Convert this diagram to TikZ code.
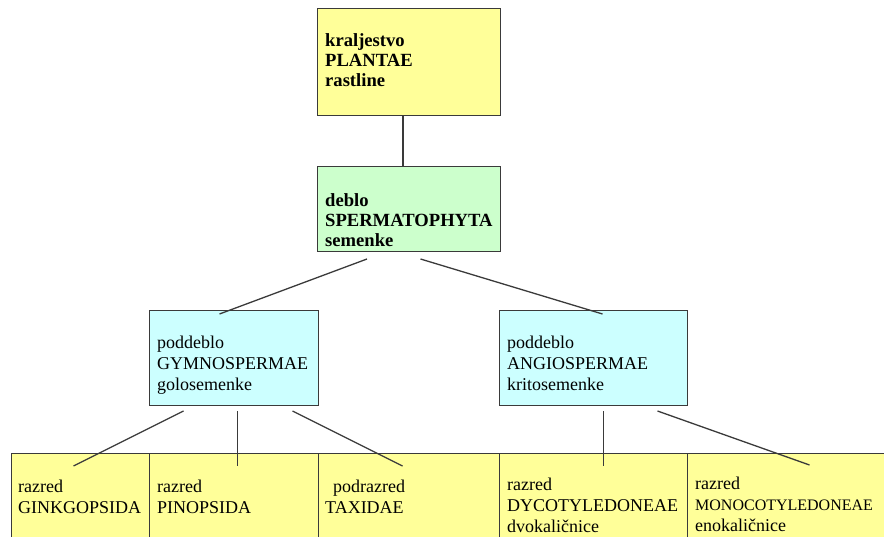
\documentclass[tikz,border=0pt]{standalone}
\usepackage{fontspec}
\setmainfont{Liberation Serif}
\usetikzlibrary{positioning}

\definecolor{boxyellow}{HTML}{FFFF99}
\definecolor{boxgreen}{HTML}{CCFFCC}
\definecolor{boxcyan}{HTML}{CCFFFF}
\definecolor{edgegray}{HTML}{3A3A3A}

\tikzset{
  taxon/.style={draw=edgegray, line width=1pt, anchor=north west, inner sep=0pt},
  names/.style={anchor=base west, align=left, inner sep=0pt,
    font=\fontsize{18}{21}\selectfont},
  boldnames/.style={names, font=\fontsize{18.6}{20.3}\selectfont\bfseries},
  link/.style={draw=edgegray, line width=1.3pt}
}

\begin{document}
\begin{tikzpicture}[x=1pt,y=-1pt]
		\useasboundingbox (0,0) rectangle (884,537);
		\clip (0,0) rectangle (884,537);

		\node[taxon, fill=boxyellow, minimum width=183pt, minimum height=107pt] (kingdom) at (317,8)   {};
		\node[taxon, fill=boxgreen,  minimum width=183pt, minimum height=85pt]  (phylum)  at (317,166) {};
		\node[taxon, fill=boxcyan,   minimum width=169pt, minimum height=95pt]  (gymno)   at (149,310) {};
		\node[taxon, fill=boxcyan,   minimum width=188pt, minimum height=95pt]  (angio)   at (499,310) {};
		\node[taxon, fill=boxyellow, minimum width=138pt, minimum height=110pt] (ginkgo)  at (11,453)  {};
		\node[taxon, fill=boxyellow, minimum width=169pt, minimum height=110pt] (pinop)   at (149,453) {};
		\node[taxon, fill=boxyellow, minimum width=181pt, minimum height=110pt] (taxid)   at (318,453) {};
		\node[taxon, fill=boxyellow, minimum width=188pt, minimum height=110pt] (dicot)   at (499,453) {};
		\node[taxon, fill=boxyellow, minimum width=210pt, minimum height=110pt] (monocot) at (687,453) {};

		\node[boldnames] (kingdomtxt) at (325,87)  {kraljestvo\\PLANTAE\\rastline};
		\node[boldnames] (phylumtxt)  at (325,247) {deblo\\SPERMATOPHYTA\\semenke};
		\node[names] (gymnotxt)   at (157,391) {poddeblo\\GYMNOSPERMAE\\golosemenke};
		\node[names] (angiotxt)   at (507,391) {poddeblo\\ANGIOSPERMAE\\kritosemenke};
		\node[names] (ginkgotxt)  at (18,513)  {razred\\GINKGOPSIDA};
		\node[names] (pinoptxt)   at (157,513) {razred\\PINOPSIDA};
		\node[names] (taxidtxt)   at (325,513) {\hspace{8pt}podrazred\\TAXIDAE};
		\node[names] (dicottxt)   at (507,532) {razred\\DYCOTYLEDONEAE\\dvokaličnice};
		\node[names] (monocottxt) at (695,531) {razred\\{\fontsize{16}{20}\selectfont MONOCOTYLEDONEAE}\\enokaličnice};

		\path [link]
		([xshift=-6pt]kingdom.south)             edge ([xshift=-6pt]phylum.north)
		([xshift=-42pt,yshift=-7pt]phylum.south) edge ([xshift=-14.5pt,yshift=-4pt]gymno.north)
		([xshift=11.5pt,yshift=-7pt]phylum.south) edge ([xshift=9pt,yshift=-4pt]angio.north)
		([xshift=-50.5pt,yshift=-5pt]gymno.south) edge ([xshift=-7pt,yshift=-13pt]ginkgo.north)
		([xshift=3.5pt,yshift=-5pt]gymno.south)   edge ([xshift=3.5pt,yshift=-13pt]pinop.north)
		([xshift=58.5pt,yshift=-5pt]gymno.south)  edge ([xshift=-6.5pt,yshift=-13pt]taxid.north)
		([xshift=10pt,yshift=-5pt]angio.south)    edge ([xshift=10pt,yshift=-13pt]dicot.north)
		([xshift=64pt,yshift=-5pt]angio.south)    edge ([xshift=17pt,yshift=-12pt]monocot.north);

	\end{tikzpicture}
\end{document}
